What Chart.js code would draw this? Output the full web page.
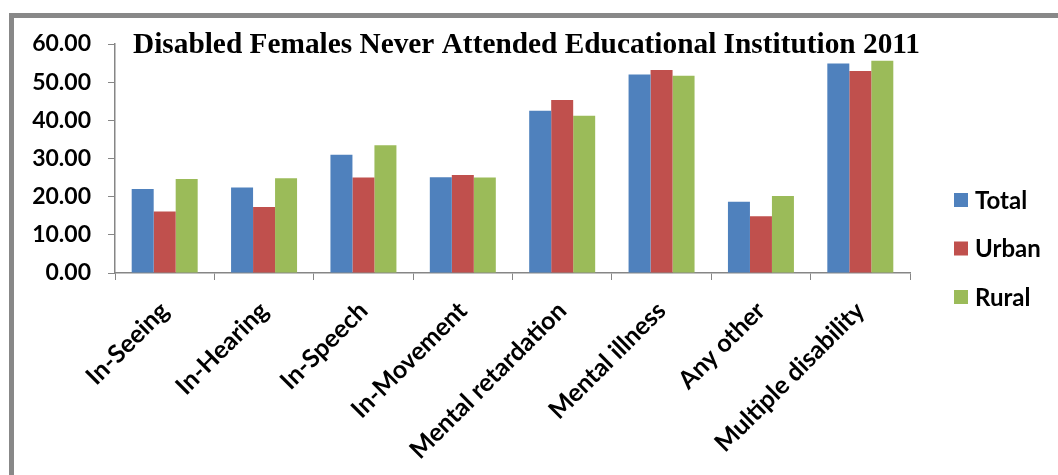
<!DOCTYPE html>
<html>
<head>
<meta charset="utf-8">
<script src="https://cdn.jsdelivr.net/npm/chart.js@4/dist/chart.umd.min.js"></script>
<style>
  body { margin: 0; background: #fff; }
  #chart { position: absolute; left: 0; top: 0; }
</style>
</head>
<body>
<canvas id="chart" width="1058" height="475"></canvas>
<script>
// categories and series
var categories = ["In-Seeing", "In-Hearing", "In-Speech", "In-Movement", "Mental retardation", "Mental illness", "Any other", "Multiple disability"];
var total = [22.0, 22.4, 31.0, 25.1, 42.5, 52.0, 18.7, 54.9];
var urban = [16.1, 17.3, 25.0, 25.7, 45.3, 53.2, 14.9, 52.9];
var rural = [24.6, 24.8, 33.5, 25.0, 41.2, 51.7, 20.2, 55.6];
var seriesNames = ["Total", "Urban", "Rural"];
var titleText = "Disabled Females Never Attended Educational Institution 2011";

var axisGray = '#868686';

// frame, title and legend drawn by hand
var decor = {
  id: 'decor',
  beforeDraw: function(chart) {
    var ctx = chart.ctx;
    ctx.save();
    ctx.fillStyle = '#888888';
    ctx.fillRect(9, 13, 1058, 5);
    ctx.fillRect(9, 13, 5, 475);
    ctx.restore();
  },
  afterDraw: function(chart) {
    var ctx = chart.ctx;
    ctx.save();
    ctx.fillStyle = '#000';
    ctx.font = 'bold 30px "Liberation Serif"';
    ctx.textBaseline = 'alphabetic';
    ctx.textAlign = 'left';
    var w = ctx.measureText(titleText).width;
    ctx.translate(133, 53);
    ctx.scale(787 / w, 1);
    ctx.fillText(titleText, 0, 0);
    ctx.restore();

    ctx.save();
    ctx.font = 'bold 24px Lato';
    ctx.textBaseline = 'middle';
    chart.data.datasets.forEach(function(ds, i) {
      var y = 200 + i * 48.5;
      ctx.fillStyle = ds.backgroundColor;
      ctx.fillRect(954, y - 7, 14, 14);
      ctx.fillStyle = '#000';
      ctx.fillText(ds.label, 975, y + 1);
    });
    ctx.restore();
  }
};

new Chart(document.getElementById('chart'), {
  type: 'bar',
  data: {
    labels: categories,
    datasets: [
      { label: seriesNames[0], data: total, backgroundColor: '#4F81BD' },
      { label: seriesNames[1], data: urban, backgroundColor: '#C0504D' },
      { label: seriesNames[2], data: rural, backgroundColor: '#9BBB59' }
    ]
  },
  options: {
    responsive: false,
    animation: false,
    layout: { padding: { top: 44, right: 148, left: 0, bottom: 0 } },
    datasets: { bar: { categoryPercentage: 0.664, barPercentage: 1.0 } },
    plugins: {
      legend: { display: false },
      tooltip: { enabled: false },
      title: { display: false }
    },
    scales: {
      y: {
        min: 0,
        max: 60,
        ticks: {
          stepSize: 10,
          color: '#000',
          padding: 17,
          font: { family: 'Lato', weight: 'bold', size: 23 },
          callback: function(v) { return v.toFixed(2); }
        },
        grid: { drawOnChartArea: false, drawTicks: true, tickLength: 7, color: axisGray, lineWidth: 1 },
        border: { color: axisGray, width: 1.5 },
        afterFit: function(s) { s.width = 115; }
      },
      x: {
        ticks: {
          color: '#000',
          maxRotation: 45,
          minRotation: 45,
          padding: 16,
          font: { family: 'Lato', weight: 'bold', size: 25 }
        },
        grid: { drawOnChartArea: false, drawTicks: true, tickLength: 7, color: axisGray, lineWidth: 1 },
        border: { color: axisGray, width: 1.5 },
        afterFit: function(s) { s.height = 202; }
      }
    }
  },
  plugins: [decor]
});
</script>
</body>
</html>
